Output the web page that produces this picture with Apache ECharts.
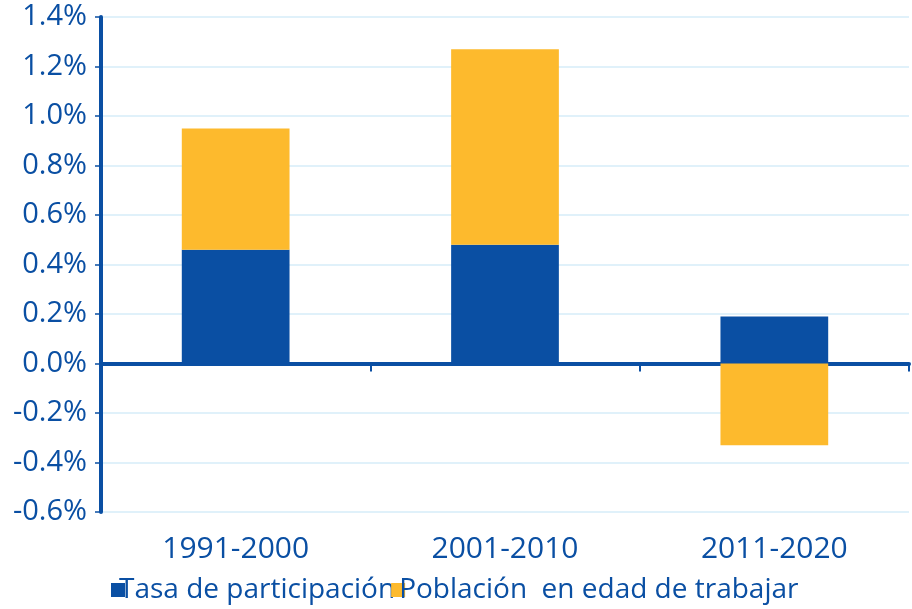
<!DOCTYPE html>
<html>
<head>
<meta charset="utf-8">
<script src="https://cdn.jsdelivr.net/npm/echarts@6/dist/echarts.min.js"></script>
<style>
  html, body { margin: 0; padding: 0; background: #fff; }
  #chart { width: 912px; height: 609px; }
</style>
</head>
<body>
<div id="chart"></div>
<script>
var categories = ["1991-2000", "2001-2010", "2011-2020"];
var tasaParticipacion = [0.46, 0.48, 0.19];
var poblacionEdad = [0.49, 0.79, -0.33];
var seriesNames = ["Tasa de participación", "Población  en edad de trabajar"];

var blue = "#0a4fa3";
var yellow = "#fdba2d";
var font = "Open Sans";

var myChart = echarts.init(document.getElementById("chart"));
myChart.setOption({
  animation: false,
  textStyle: { fontFamily: font },
  grid: { left: 101, right: 3, top: 17, bottom: 97 },
  legend: {
    bottom: 0,
    left: 106,
    itemWidth: 14,
    itemHeight: 14,
    itemGap: -4,
    icon: "rect",
    textStyle: { color: blue, fontSize: 28, fontFamily: font, padding: [0, 0, 0, -11] },
    data: seriesNames
  },
  xAxis: [
    {
      type: "category",
      data: categories,
      axisLine: { onZero: true, lineStyle: { color: blue, width: 4 } },
      axisTick: { show: true, length: 8, lineStyle: { color: blue, width: 2 } },
      axisLabel: { show: false },
      splitLine: { show: false }
    },
    {
      type: "category",
      data: categories,
      position: "bottom",
      axisLine: { show: false, onZero: false },
      axisTick: { show: false },
      axisLabel: { color: blue, fontSize: 30, margin: 22, fontFamily: font },
      splitLine: { show: false }
    }
  ],
  yAxis: {
    type: "value",
    min: -0.6,
    max: 1.4,
    interval: 0.2,
    axisLine: { show: true, lineStyle: { color: blue, width: 4 } },
    axisTick: { show: true, length: 6, lineStyle: { color: blue, width: 1.5 } },
    axisLabel: {
      color: blue,
      fontSize: 29,
      margin: 14,
      fontFamily: font,
      formatter: function (v) { return v.toFixed(1) + "%"; }
    },
    splitLine: { lineStyle: { color: "#d6ecf8", width: 1.5 } }
  },
  series: [
    {
      name: seriesNames[0],
      type: "bar",
      stack: "total",
      barWidth: "40%",
      itemStyle: { color: blue },
      data: tasaParticipacion
    },
    {
      name: seriesNames[1],
      type: "bar",
      stack: "total",
      barWidth: "40%",
      itemStyle: { color: yellow },
      data: poblacionEdad
    }
  ]
});
</script>
</body>
</html>
